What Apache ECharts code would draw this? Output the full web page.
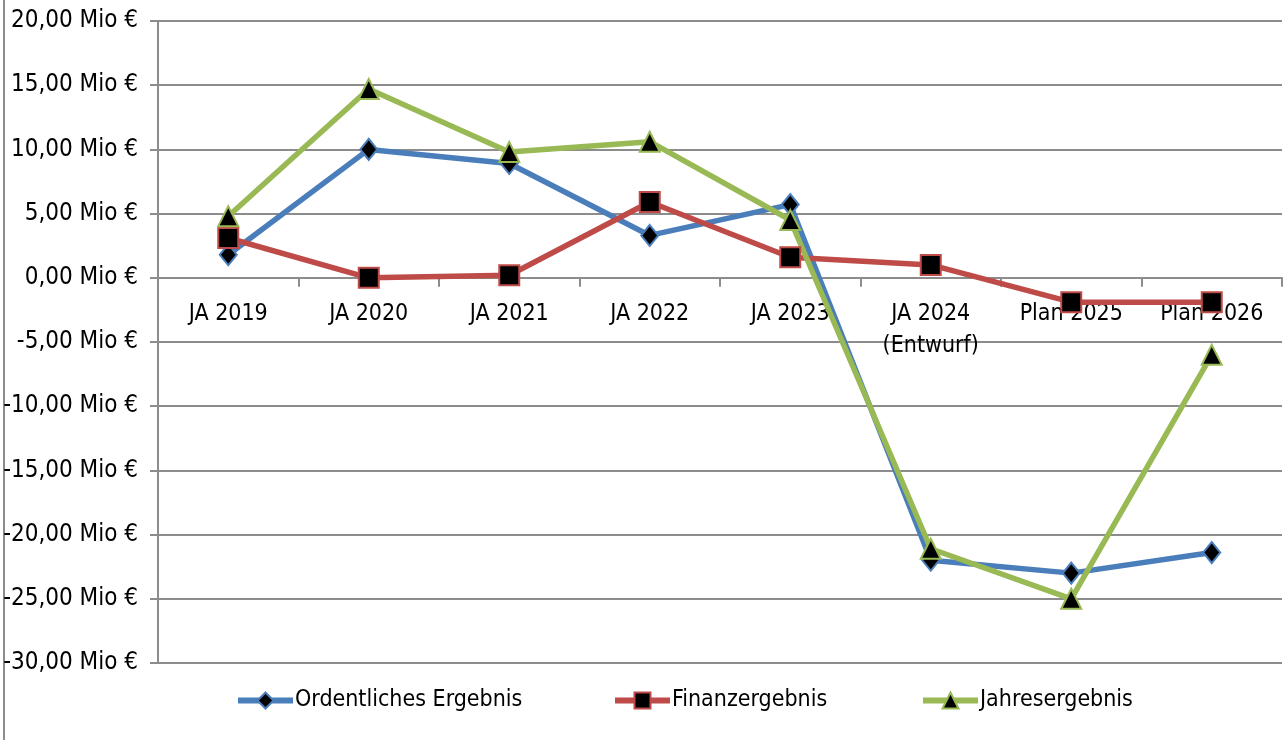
<!DOCTYPE html>
<html>
<head>
<meta charset="utf-8">
<script src="https://cdn.jsdelivr.net/npm/echarts@6/dist/echarts.min.js"></script>
<style>
  html, body { margin: 0; padding: 0; background: #fff; }
  #chart { width: 1288px; height: 740px; }
</style>
</head>
<body>
<div id="chart"></div>
<script>
// Ergebnisentwicklung - values in Mio €
const categories = ['JA 2019', 'JA 2020', 'JA 2021', 'JA 2022', 'JA 2023', 'JA 2024\n(Entwurf)', 'Plan 2025', 'Plan 2026'];
const ordentlichesErgebnis = [1.8, 10.0, 8.9, 3.3, 5.7, -22.0, -23.0, -21.4];
const finanzergebnis = [3.1, 0.0, 0.2, 5.9, 1.6, 1.0, -1.9, -1.9];
const jahresergebnis = [4.8, 14.7, 9.8, 10.6, 4.5, -21.1, -25.0, -6.0];
const seriesNames = ['Ordentliches Ergebnis', 'Finanzergebnis', 'Jahresergebnis'];

const FONT = '"DejaVu Sans Condensed", "Liberation Sans Narrow", sans-serif';
const GRID_GRAY = '#8c8c8c';
const Y_MIN = -30, Y_MAX = 20;
const GRID_TOP = 21, GRID_BOTTOM = 77, CHART_H = 740;

// move the category axis up to the zero line (labels included)
const plotH = CHART_H - GRID_TOP - GRID_BOTTOM;
const zeroOffset = -plotH * (0 - Y_MIN) / (Y_MAX - Y_MIN);

function makeSeries(name, data, color, symbol, size) {
    return {
        name: name,
        type: 'line',
        data: data,
        symbol: symbol,
        symbolSize: size,
        lineStyle: { color: color, width: 5.5 },
        itemStyle: { color: '#000', borderColor: color, borderWidth: 2 },
        emphasis: { disabled: true },
        z: 3
    };
}

function makeLegend(name, left) {
    return {
        data: [name],
        left: left,
        top: 684,
        itemWidth: 55,
        itemHeight: 20,
        lineStyle: { width: 6 },
        textStyle: { fontFamily: FONT, fontSize: 23, color: '#000', padding: [0, 0, 0, -3] }
    };
}

const chart = echarts.init(document.getElementById('chart'));

chart.setOption({
    animation: false,
    graphic: [{
        type: 'line',
        shape: { x1: 4, y1: 0, x2: 4, y2: 740 },
        style: { stroke: '#8c8c8c', lineWidth: 2 }
    }],
    legend: [
        makeLegend(seriesNames[0], 230),
        makeLegend(seriesNames[1], 607),
        makeLegend(seriesNames[2], 915)
    ],
    grid: { left: 158, right: 6, top: GRID_TOP, bottom: GRID_BOTTOM, containLabel: false, outerBoundsMode: 'none' },
    xAxis: {
        type: 'category',
        data: categories,
        boundaryGap: true,
        position: 'bottom',
        offset: zeroOffset,
        axisLine: { onZero: false, lineStyle: { color: GRID_GRAY, width: 2 } },
        axisTick: { show: true, length: 9, alignWithLabel: false, lineStyle: { color: GRID_GRAY, width: 2 } },
        axisLabel: {
            interval: 0,
            margin: 20,
            fontFamily: FONT,
            fontSize: 23,
            lineHeight: 32,
            color: '#000'
        }
    },
    yAxis: {
        type: 'value',
        min: Y_MIN,
        max: Y_MAX,
        interval: 5,
        axisLine: { show: true, lineStyle: { color: GRID_GRAY, width: 2 } },
        axisTick: { show: true, length: 8, lineStyle: { color: GRID_GRAY, width: 2 } },
        splitLine: { lineStyle: { color: GRID_GRAY, width: 2 } },
        axisLabel: {
            margin: 20,
            fontFamily: FONT,
            fontSize: 24,
            color: '#000',
            formatter: function (v) {
                return v.toFixed(2).replace('.', ',') + ' Mio €';
            }
        }
    },
    series: [
        makeSeries(seriesNames[0], ordentlichesErgebnis, '#4a7ebb', 'diamond', [17, 21]),
        makeSeries(seriesNames[1], finanzergebnis, '#be4b48', 'rect', 20),
        makeSeries(seriesNames[2], jahresergebnis, '#98b954', 'triangle', 20)
    ]
});
</script>
</body>
</html>
